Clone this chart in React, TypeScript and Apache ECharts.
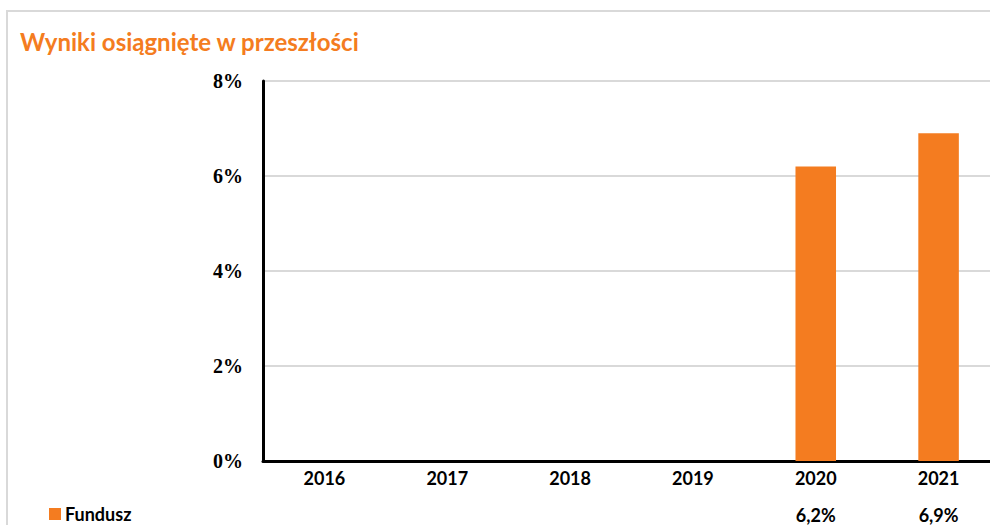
import React, { useEffect, useRef } from "react";
import * as echarts from "echarts";

const categories = ["2016", "2017", "2018", "2019", "2020", "2021"];
const fundValues: (number | null)[] = [null, null, null, null, 6.2, 6.9];
const yTicks = [0, 2, 4, 6, 8];
const seriesName = "Fundusz";
const title = "Wyniki osiągnięte w przeszłości";

const ORANGE = "#F47C20";

export default function App() {
  const ref = useRef<HTMLDivElement>(null);
  useEffect(() => {
    if (!ref.current) return;
    const chart = echarts.init(ref.current, undefined, { renderer: "svg" });
    const fmtPct = (v: number | null) =>
      v == null ? "" : v.toFixed(1).replace(".", ",") + "%";
    chart.setOption({
      animation: false,
      backgroundColor: "#ffffff",
      title: {
        text: title,
        left: 15,
        top: 24,
        textStyle: {
          color: ORANGE,
          fontFamily: "Lato",
          fontWeight: "bold",
          fontSize: 24,
        },
      },
      legend: {
        data: [seriesName],
        left: 44,
        top: 500,
        padding: [5, 5, 0, 5],
        icon: "rect",
        itemWidth: 12,
        itemHeight: 12,
        itemGap: 4,
        textStyle: {
          color: "#000",
          fontFamily: "Lato",
          fontWeight: "bold",
          fontSize: 18,
          padding: [0, 0, 0, -1],
        },
      },
      graphic: [
        {
          type: "rect",
          shape: { x: 7, y: 11, width: 1100, height: 700 },
          style: { fill: "none", stroke: "#d9d9d9", lineWidth: 2 },
          silent: true,
          z: 0,
        },
      ],
      grid: {
        left: 263,
        right: 0,
        top: 81,
        bottom: 64,
        containLabel: false,
        outerBoundsMode: "none",
      },
      xAxis: [
        {
          type: "category",
          data: categories,
          axisLine: { show: true, lineStyle: { color: "#000", width: 3 } },
          axisTick: { show: false },
          axisLabel: {
            color: "#000",
            fontFamily: "Lato",
            fontWeight: "bold",
            fontSize: 18,
            margin: 8,
          },
        },
        {
          type: "category",
          data: categories,
          position: "bottom",
          offset: 37,
          axisLine: { show: false },
          axisTick: { show: false },
          axisLabel: {
            color: "#000",
            fontFamily: "Lato",
            fontWeight: "bold",
            fontSize: 18,
            margin: 8,
            formatter: (_v: string, i: number) => fmtPct(fundValues[i]),
          },
        },
      ],
      yAxis: {
        type: "value",
        min: yTicks[0],
        max: yTicks[yTicks.length - 1],
        interval: 2,
        axisLine: { show: true, lineStyle: { color: "#000", width: 3 } },
        axisTick: { show: false },
        splitLine: { lineStyle: { color: "#d9d9d9", width: 2 } },
        axisLabel: {
          color: "#000",
          fontFamily: "Liberation Serif",
          fontWeight: "bold",
          fontSize: 20,
          margin: 20,
          formatter: (v: number) => v + "%",
        },
      },
      series: [
        {
          name: seriesName,
          type: "bar",
          data: fundValues,
          barWidth: "33%",
          itemStyle: { color: ORANGE },
        },
      ],
    });
    return () => chart.dispose();
  }, []);
  return (
    <div
      style={{
        position: "fixed",
        left: 0,
        top: 0,
        width: 990,
        height: 525,
        overflow: "hidden",
      }}
    >
      <div ref={ref} style={{ width: 1000, height: 525 }} />
    </div>
  );
}
